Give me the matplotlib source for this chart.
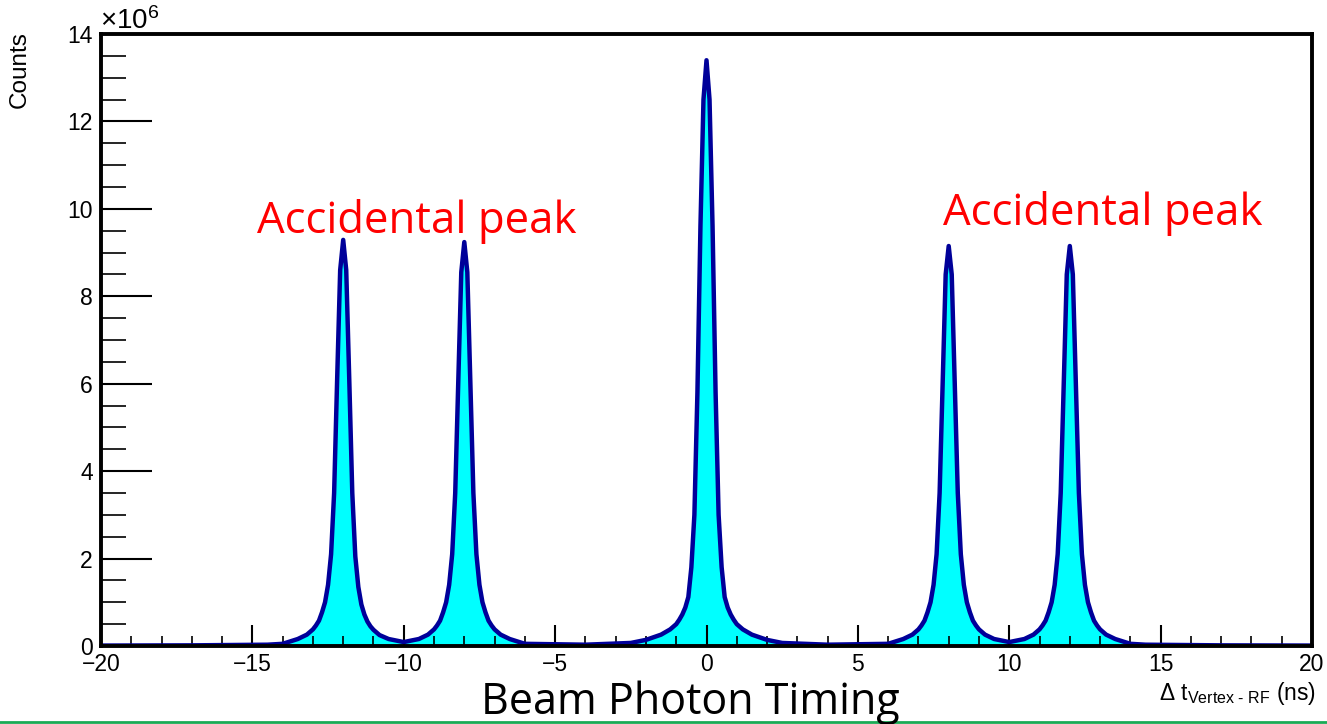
import numpy as np
import matplotlib.pyplot as plt
from matplotlib.ticker import MultipleLocator

plt.rcParams['font.family'] = ['Liberation Sans', 'DejaVu Sans']
plt.rcParams['mathtext.fontset'] = 'custom'
plt.rcParams['mathtext.rm'] = 'Liberation Sans'
plt.rcParams['mathtext.it'] = 'Liberation Sans'

# bin offsets (ns) around each peak centre, counts in units of 1e6
OFFSETS = [-2.0, -1.5, -1.2, -1.0, -0.9, -0.8, -0.7, -0.6, -0.5, -0.4, -0.3, -0.2, -0.1, 0.0,
           0.1, 0.2, 0.3, 0.4, 0.5, 0.6, 0.7, 0.8, 0.9, 1.0, 1.2, 1.5, 2.0]
PEAK_CENTERS = [-12, -8, 0, 8, 12]
PEAK_COUNTS = [
    [0.05, 0.16, 0.26, 0.38, 0.47, 0.58, 0.77, 1.0, 1.4, 2.1, 3.5, 6.1, 8.6, 9.29,
     8.6, 6.1, 3.5, 2.05, 1.35, 0.95, 0.72, 0.56, 0.45, 0.37, 0.25, 0.16, 0.09],
    [0.09, 0.16, 0.26, 0.38, 0.47, 0.58, 0.77, 1.0, 1.4, 2.1, 3.5, 6.0, 8.55, 9.24,
     8.55, 6.0, 3.5, 2.1, 1.4, 1.0, 0.77, 0.58, 0.47, 0.38, 0.26, 0.16, 0.05],
    [0.14, 0.26, 0.38, 0.5, 0.6, 0.72, 0.88, 1.12, 1.8, 3.0, 5.8, 9.6, 12.5, 13.4,
     12.5, 9.6, 5.8, 3.0, 1.8, 1.12, 0.88, 0.72, 0.6, 0.5, 0.38, 0.26, 0.14],
    [0.05, 0.16, 0.26, 0.38, 0.47, 0.58, 0.77, 1.0, 1.4, 2.1, 3.5, 6.0, 8.5, 9.15,
     8.5, 6.0, 3.5, 2.1, 1.4, 1.0, 0.77, 0.58, 0.47, 0.38, 0.26, 0.16, 0.09],
    [0.09, 0.16, 0.26, 0.38, 0.47, 0.58, 0.77, 1.0, 1.4, 2.1, 3.5, 6.0, 8.5, 9.15,
     8.5, 6.0, 3.5, 2.1, 1.4, 1.0, 0.77, 0.58, 0.47, 0.38, 0.26, 0.16, 0.05],
]
BASE_T = [-20, -17, -14.5, -4.0, -2.5, 2.5, 4.0, 14.5, 17, 20]
BASE_C = [0.01, 0.015, 0.03, 0.03, 0.07, 0.07, 0.03, 0.03, 0.015, 0.01]

t = list(BASE_T)
c = list(BASE_C)
for centre, counts in zip(PEAK_CENTERS, PEAK_COUNTS):
    t += [centre + o for o in OFFSETS]
    c += counts
t = np.array(t)
c = np.array(c)
order = np.argsort(t, kind='stable')
t, c = t[order], c[order]

fig = plt.figure(figsize=(13.27, 7.24), dpi=100)
ax = fig.add_axes([101 / 1327, 1 - 646 / 724, (1312 - 101) / 1327, (646 - 34) / 724])

ax.fill_between(t, 0, c, color='#00ffff', lw=0)
ax.plot(t, c, color='#000099', lw=3.2, solid_joinstyle='round')

ax.set_xlim(-20, 20)
ax.set_ylim(0, 14)
ax.xaxis.set_major_locator(MultipleLocator(5))
ax.xaxis.set_minor_locator(MultipleLocator(1))
ax.yaxis.set_major_locator(MultipleLocator(2))
ax.yaxis.set_minor_locator(MultipleLocator(0.5))
ax.tick_params(axis='x', which='major', direction='in', length=15, width=1.5, labelsize=16.5, pad=5)
ax.tick_params(axis='x', which='minor', direction='in', length=7.5, width=1.2)
ax.tick_params(axis='y', which='major', direction='in', length=37, width=1.5, labelsize=16.5, pad=6)
ax.tick_params(axis='y', which='minor', direction='in', length=18, width=1.2)
for s in ax.spines.values():
    s.set_linewidth(2.8)

fig.text(100 / 1327, 1 - 29 / 724, r'$\times$10$^{6}$', fontsize=20, ha='left', va='baseline')
fig.text(20 / 1327, 1 - 31 / 724, 'Counts', fontsize=17.5, rotation=90, ha='center', va='top')
fig.text(1316 / 1327, 1 - 700 / 724, r'$\Delta$ t$_{\mathrm{Vertex\ \text{-}\ RF}}$ (ns)',
         fontsize=16.5, ha='right', va='baseline')

fig.text(690 / 1327, 1 - 714 / 724, 'Beam Photon Timing', fontsize=31, ha='center',
         va='baseline', family='Open Sans')
fig.text(257 / 1327, 1 - 233 / 724, 'Accidental peak', fontsize=31.5, color='red', ha='left',
         va='baseline', family='Open Sans')
fig.text(943 / 1327, 1 - 225 / 724, 'Accidental peak', fontsize=31.5, color='red', ha='left',
         va='baseline', family='Open Sans')

fig.add_artist(plt.Line2D([0, 1], [1 - 722 / 724, 1 - 722 / 724], color='#1aaa55', lw=2,
                          transform=fig.transFigure))

fig.savefig('out.png', dpi=100)
